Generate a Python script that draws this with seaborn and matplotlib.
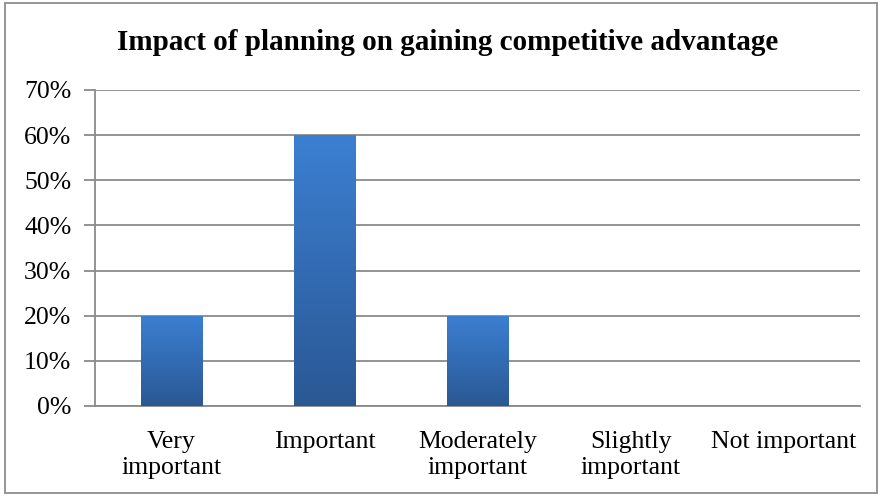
import numpy as np
import pandas as pd
import matplotlib
matplotlib.use("Agg")
import matplotlib.pyplot as plt
import seaborn as sns
from matplotlib.colors import LinearSegmentedColormap
from matplotlib.patches import Rectangle

categories = ["Very\nimportant", "Important", "Moderately\nimportant", "Slightly\nimportant", "Not important"]
values = [20, 60, 20, 0, 0]
yticks = [0, 10, 20, 30, 40, 50, 60, 70]
ytick_labels = ["0%", "10%", "20%", "30%", "40%", "50%", "60%", "70%"]
title = "Impact of planning on gaining competitive advantage"

sns.set_theme(style="white")
plt.rcParams['font.family'] = ['Liberation Serif', 'DejaVu Serif']
plt.rcParams['text.color'] = 'black'

df = pd.DataFrame({"cat": categories, "val": values})

fig = plt.figure(figsize=(8.82, 4.96), dpi=100)
ax = fig.add_axes([95/882, 90/496, 765/882, 316/496])

sns.barplot(data=df, x="cat", y="val", ax=ax, width=0.405, color="#3a78c6", saturation=1, zorder=3)

ax.set_ylim(0, 70)
ax.set_xlim(-0.5, len(categories) - 0.5)

grid_c = "#8a8a8a"
ax.set_yticks(yticks)
ax.set_yticklabels(ytick_labels, fontsize=18.5, color="black")
ax.yaxis.grid(True, color=grid_c, linewidth=1.3, zorder=0)
ax.set_axisbelow(True)

ax.set_xticks(range(len(categories)))
ax.set_xticklabels(categories, fontsize=18.5, color="black", linespacing=1.25)
ax.set_xticks(np.arange(-0.5, len(categories), 1.0), minor=True)
ax.tick_params(axis="x", which="major", length=0, pad=18)
ax.tick_params(axis="x", which="minor", length=7, width=1.3, color=grid_c, direction="out")
ax.tick_params(axis="y", which="major", length=8, width=1.3, color=grid_c, direction="out", pad=9, left=True)

for s in ["top", "right"]:
    ax.spines[s].set_visible(False)
for s in ["left", "bottom"]:
    ax.spines[s].set_color(grid_c)
    ax.spines[s].set_linewidth(1.3)

ax.set_xlabel("")
ax.set_ylabel("")

# gradient fill on bars
cmap = LinearSegmentedColormap.from_list("g", ["#2a5894", "#3c7fd2"])
grad = np.linspace(0, 1, 256).reshape(-1, 1)
for p in list(ax.patches):
    x0, y0 = p.get_x(), p.get_y()
    w, h = p.get_width(), p.get_height()
    p.set_edgecolor("none")
    if h <= 0:
        p.set_visible(False)
        continue
    p.set_facecolor("none")
    im = ax.imshow(grad, cmap=cmap, origin="lower", aspect="auto",
                   extent=[x0, x0 + w, y0, y0 + h], zorder=3)
    im.set_clip_path(p)
ax.set_xlim(-0.5, len(categories) - 0.5)
ax.set_ylim(0, 70)

fig.text(448/882, 1 - 42/496, title, ha="center", va="center", fontsize=21, fontweight="bold", color="black")

border = Rectangle((5/882, 3/496), 872/882, 490/496, transform=fig.transFigure,
                   fill=False, edgecolor="#8c8c8c", linewidth=1.3)
fig.patches.append(border)

fig.savefig("out.png", dpi=100)
